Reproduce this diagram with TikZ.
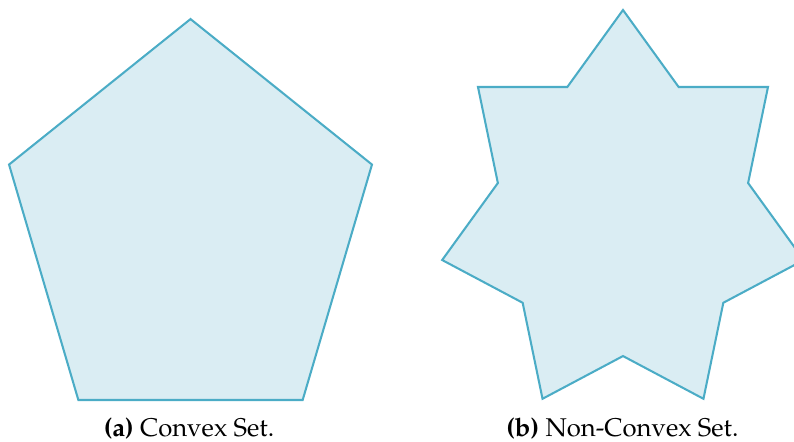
\documentclass[tikz,border=0pt]{standalone}
\usepackage[T1]{fontenc}
\usepackage{mathpazo}
\definecolor{setline}{RGB}{75,172,198}
\definecolor{setfill}{RGB}{218,237,243}
\tikzset{
  setshape/.style={draw=setline, fill=setfill, line width=0.8pt, line join=miter},
  caption/.style={anchor=base, inner sep=0pt}
}
\begin{document}
\begin{tikzpicture}
  \useasboundingbox (0,0) rectangle (10.878,-6.042);
  \clip (0,0) rectangle (10.878,-6.042);
  % convex: pentagon
  \begin{scope}[shift={(2.610,-3.146)}, xscale=2.614, yscale=2.885]
    \draw[setshape] (90:1)
    \foreach \a in {162, 234, ..., 378} {
      -- (\a:1)
    } -- cycle;
  \end{scope}
  % non-convex: seven pointed star
  \begin{scope}[shift={(8.535,-2.939)}, xscale=2.541, yscale=2.802]
    \draw[setshape] (90:1)
    \foreach \k in {1, ..., 13} {
      -- ({90+\k*360/14}:{ifthenelse(isodd(\k),0.692,1)})
    } -- cycle;
  \end{scope}
  \node[caption] (capA) at (2.589,-5.975) {\textbf{(a)} Convex Set.};
  \node[caption] (capB) at (8.528,-5.975) {\textbf{(b)} Non-Convex Set.};
\end{tikzpicture}
\end{document}
